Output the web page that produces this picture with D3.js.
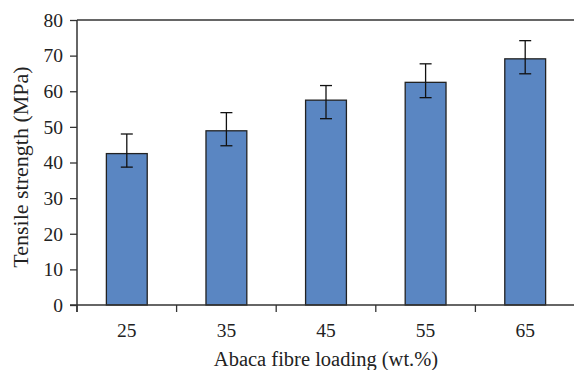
<!DOCTYPE html>
<html>
<head>
<meta charset="utf-8">
<script src="https://cdn.jsdelivr.net/npm/d3@7"></script>
<style>
  body { margin: 0; background: #fff; }
  text { font-family: "Liberation Serif", "DejaVu Serif", serif; fill: #222; }
</style>
</head>
<body>
<svg id="chart" width="574" height="370"></svg>
<script>
// Data
var loadings = ['25', '35', '45', '55', '65'],
	strength = [42.5, 48.9, 57.5, 62.5, 69.1],
	errHigh = [48.0, 54.0, 61.6, 67.7, 74.2],
	errLow = [38.7, 44.7, 52.3, 58.2, 64.9],
	yTicks = [0, 10, 20, 30, 40, 50, 60, 70, 80];

var svg = d3.select('#chart');

var margin = {left: 77, top: 20, right: 0, bottom: 65},
	width = 575 - margin.left,
	height = 305 - margin.top;

var x = d3.scaleBand().domain(loadings).range([0, width]).paddingInner(0.59).paddingOuter(0.295),
	xTicks = d3.scaleLinear().domain([0, loadings.length]).range([0, width]),
	y = d3.scaleLinear().domain([0, 80]).range([height, 0]);

var g = svg.append('g').attr('transform', 'translate(' + margin.left + ',' + margin.top + ')');

// top border
g.append('line')
	.attr('x1', 0).attr('x2', width)
	.attr('y1', y(80)).attr('y2', y(80))
	.attr('stroke', '#333').attr('stroke-width', 1.5);

// bars
g.selectAll('.bar')
	.data(strength)
	.enter().append('rect')
	.attr('class', 'bar')
	.attr('x', function(d, i) { return x(loadings[i]); })
	.attr('y', function(d) { return y(d); })
	.attr('width', x.bandwidth())
	.attr('height', function(d) { return height - y(d); })
	.attr('fill', '#5a86c2')
	.attr('stroke', '#222')
	.attr('stroke-width', 1.3);

// error bars
var eb = g.selectAll('.err')
	.data(strength)
	.enter().append('g')
	.attr('class', 'err')
	.attr('transform', function(d, i) { return 'translate(' + (x(loadings[i]) + x.bandwidth() / 2) + ',0)'; })
	.attr('stroke', '#111')
	.attr('stroke-width', 1.3);

eb.append('line')
	.attr('y1', function(d, i) { return y(errHigh[i]); })
	.attr('y2', function(d, i) { return y(errLow[i]); });
eb.append('line')
	.attr('x1', -6).attr('x2', 6)
	.attr('y1', function(d, i) { return y(errHigh[i]); })
	.attr('y2', function(d, i) { return y(errHigh[i]); });
eb.append('line')
	.attr('x1', -6).attr('x2', 6)
	.attr('y1', function(d, i) { return y(errLow[i]); })
	.attr('y2', function(d, i) { return y(errLow[i]); });

// y axis
var yAxis = d3.axisLeft(y).tickValues(yTicks).tickSize(7).tickPadding(7);
var ya = g.append('g').call(yAxis);
ya.select('.domain').attr('stroke', '#333').attr('stroke-width', 1.5).attr('d', 'M0,' + (height + 7) + 'V0');
ya.selectAll('.tick line').attr('stroke', '#333').attr('stroke-width', 1.3);
ya.selectAll('.tick text').style('font-size', '19.5px').attr('fill', '#222');

// x axis: ticks sit between categories
var xa = g.append('g').attr('transform', 'translate(0,' + height + ')');
xa.append('line')
	.attr('x1', -7).attr('x2', width)
	.attr('stroke', '#333').attr('stroke-width', 1.5);
xa.selectAll('.xt')
	.data(d3.range(loadings.length))
	.enter().append('line')
	.attr('x1', function(d) { return xTicks(d); })
	.attr('x2', function(d) { return xTicks(d); })
	.attr('y1', 0).attr('y2', 7)
	.attr('stroke', '#333').attr('stroke-width', 1.3);
xa.selectAll('.xl')
	.data(loadings)
	.enter().append('text')
	.attr('x', function(d) { return x(d) + x.bandwidth() / 2; })
	.attr('y', 32)
	.attr('text-anchor', 'middle')
	.style('font-size', '19.5px')
	.text(function(d) { return d; });

// titles
svg.append('text')
	.attr('x', margin.left + width / 2)
	.attr('y', 366)
	.attr('text-anchor', 'middle')
	.style('font-size', '20.5px')
	.text('Abaca fibre loading (wt.%)');

svg.append('text')
	.attr('transform', 'translate(28,167) rotate(-90)')
	.attr('text-anchor', 'middle')
	.style('font-size', '22px')
	.text('Tensile strength (MPa)');
</script>
</body>
</html>
